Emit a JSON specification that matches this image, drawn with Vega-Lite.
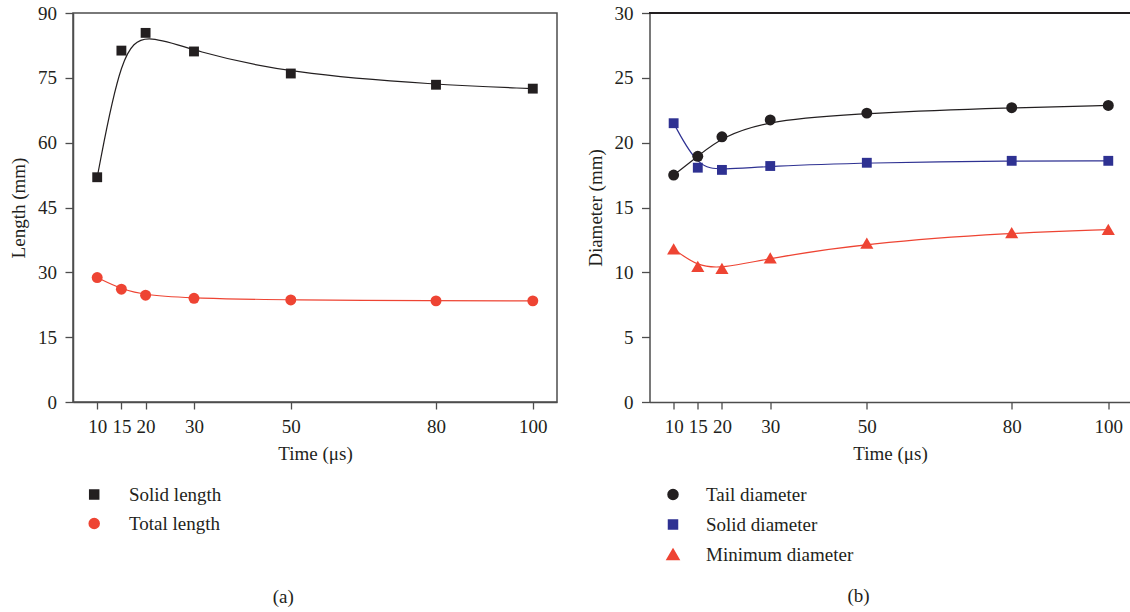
{
  "$schema": "https://vega.github.io/schema/vega-lite/v6.json",
  "background": "white",
  "padding": {"left": 8, "top": 3, "right": 0, "bottom": 0},
  "config": {
    "font": "Liberation Serif",
    "view": {"stroke": "#4d4d4d", "strokeWidth": 1.5},
    "axis": {
      "grid": false,
      "labelFont": "Liberation Serif",
      "titleFont": "Liberation Serif",
      "labelFontSize": 19,
      "titleFontSize": 19,
      "titleFontWeight": "normal",
      "labelColor": "#231f20",
      "titleColor": "#231f20",
      "domainColor": "#4d4d4d",
      "domainWidth": 1.5,
      "tickColor": "#4d4d4d",
      "tickWidth": 1.3
    },
    "legend": {
      "labelFont": "Liberation Serif",
      "labelFontSize": 19,
      "labelColor": "#231f20",
      "padding": 0,
      "symbolSize": 100,
      "symbolOpacity": 1,
      "rowPadding": 9
    }
  },
  "datasets": {
    "lengths": [
      {"time": 10, "value": 52.0, "series": "Solid length"},
      {"time": 15, "value": 81.3, "series": "Solid length"},
      {"time": 20, "value": 85.4, "series": "Solid length"},
      {"time": 30, "value": 81.1, "series": "Solid length"},
      {"time": 50, "value": 76.0, "series": "Solid length"},
      {"time": 80, "value": 73.4, "series": "Solid length"},
      {"time": 100, "value": 72.5, "series": "Solid length"},
      {"time": 10, "value": 28.8, "series": "Total length"},
      {"time": 15, "value": 26.1, "series": "Total length"},
      {"time": 20, "value": 24.7, "series": "Total length"},
      {"time": 30, "value": 24.0, "series": "Total length"},
      {"time": 50, "value": 23.6, "series": "Total length"},
      {"time": 80, "value": 23.4, "series": "Total length"},
      {"time": 100, "value": 23.4, "series": "Total length"}
    ],
    "diameters": [
      {"time": 10, "value": 17.5, "series": "Tail diameter"},
      {"time": 15, "value": 18.95, "series": "Tail diameter"},
      {"time": 20, "value": 20.45, "series": "Tail diameter"},
      {"time": 30, "value": 21.75, "series": "Tail diameter"},
      {"time": 50, "value": 22.28, "series": "Tail diameter"},
      {"time": 80, "value": 22.7, "series": "Tail diameter"},
      {"time": 100, "value": 22.87, "series": "Tail diameter"},
      {"time": 10, "value": 21.5, "series": "Solid diameter"},
      {"time": 15, "value": 18.07, "series": "Solid diameter"},
      {"time": 20, "value": 17.9, "series": "Solid diameter"},
      {"time": 30, "value": 18.2, "series": "Solid diameter"},
      {"time": 50, "value": 18.45, "series": "Solid diameter"},
      {"time": 80, "value": 18.6, "series": "Solid diameter"},
      {"time": 100, "value": 18.6, "series": "Solid diameter"},
      {"time": 10, "value": 11.8, "series": "Minimum diameter"},
      {"time": 15, "value": 10.45, "series": "Minimum diameter"},
      {"time": 20, "value": 10.3, "series": "Minimum diameter"},
      {"time": 30, "value": 11.1, "series": "Minimum diameter"},
      {"time": 50, "value": 12.25, "series": "Minimum diameter"},
      {"time": 80, "value": 13.05, "series": "Minimum diameter"},
      {"time": 100, "value": 13.3, "series": "Minimum diameter"}
    ]
  },
  "spacing": 27.5,
  "resolve": {
    "scale": {"color": "independent", "shape": "independent", "x": "independent", "y": "independent"},
    "legend": {"color": "independent", "shape": "independent"}
  },
  "hconcat": [
    {
      "width": 484,
      "height": 389,
      "data": {"name": "lengths"},
      "title": {"text": "(a)", "orient": "bottom", "anchor": "middle", "frame": "bounds", "offset": 54, "font": "Liberation Serif", "fontSize": 19, "fontWeight": "normal", "color": "#231f20"},
      "layer": [
        {
          "mark": {"type": "line", "interpolate": "basis", "strokeWidth": 1.2},
          "encoding": {
            "x": {"field": "time", "type": "quantitative", "scale": {"domain": [5, 105], "nice": false, "zero": false},
              "axis": {"title": "Time (μs)", "values": [10, 15, 20, 30, 50, 80, 100], "tickSize": 7, "labelPadding": 8, "titlePadding": 8}},
            "y": {"field": "value", "type": "quantitative", "scale": {"domain": [0, 90], "nice": false},
              "axis": {"title": "Length (mm)", "values": [0, 7.5, 15, 22.5, 30, 37.5, 45, 52.5, 60, 67.5, 75, 82.5, 90],
                "labelExpr": "datum.value % 15 === 0 ? datum.label : ''",
                "tickSize": {"condition": {"test": "datum.value % 15 !== 0", "value": 4}, "value": 8},
                "labelPadding": 8.5, "titlePadding": 9}},
            "color": {"field": "series", "type": "nominal", "scale": {"domain": ["Solid length", "Total length"], "range": ["#231f20", "#ee4433"]}}
          }
        },
        {
          "mark": {"type": "point", "filled": true, "opacity": 1, "size": 120},
          "encoding": {
            "x": {"field": "time", "type": "quantitative"},
            "y": {"field": "value", "type": "quantitative"},
            "color": {"field": "series", "type": "nominal",
              "legend": {"title": null, "orient": "none", "legendX": 11.7, "legendY": 472, "direction": "vertical", "labelOffset": 25.3}},
            "shape": {"field": "series", "type": "nominal", "scale": {"domain": ["Solid length", "Total length"], "range": ["M-0.9,-0.9H0.9V0.9H-0.9Z", "circle"]},
              "legend": {"title": null, "orient": "none", "legendX": 11.7, "legendY": 472, "direction": "vertical", "labelOffset": 25.3}}
          }
        }
      ]
    },
    {
      "width": 481,
      "height": 389,
      "view": {"stroke": null},
      "data": {"name": "diameters"},
      "title": {"text": "(b)", "orient": "bottom", "anchor": "middle", "frame": "bounds", "offset": 22, "font": "Liberation Serif", "fontSize": 19, "fontWeight": "normal", "color": "#231f20"},
      "layer": [
        {
          "mark": {"type": "rule", "color": "#231f20", "strokeWidth": 1.5},
          "encoding": {"y": {"datum": 30, "type": "quantitative"}}
        },
        {
          "mark": {"type": "line", "interpolate": "basis", "strokeWidth": 1.2},
          "encoding": {
            "x": {"field": "time", "type": "quantitative", "scale": {"domain": [5, 104.6], "nice": false, "zero": false},
              "axis": {"title": "Time (μs)", "values": [10, 15, 20, 30, 50, 80, 100], "tickSize": 7, "labelPadding": 8, "titlePadding": 8}},
            "y": {"field": "value", "type": "quantitative", "scale": {"domain": [0, 30], "nice": false},
              "axis": {"title": "Diameter (mm)", "values": [0, 2.5, 5, 7.5, 10, 12.5, 15, 17.5, 20, 22.5, 25, 27.5, 30],
                "labelExpr": "datum.value % 5 === 0 ? datum.label : ''",
                "tickSize": {"condition": {"test": "datum.value % 5 !== 0", "value": 4}, "value": 8},
                "labelPadding": 8.5, "titlePadding": 9}},
            "color": {"field": "series", "type": "nominal", "scale": {"domain": ["Tail diameter", "Solid diameter", "Minimum diameter"], "range": ["#231f20", "#2e3192", "#ee4433"]}}
          }
        },
        {
          "mark": {"type": "point", "filled": true, "opacity": 1, "size": 120},
          "encoding": {
            "x": {"field": "time", "type": "quantitative"},
            "y": {"field": "value", "type": "quantitative"},
            "color": {"field": "series", "type": "nominal",
              "legend": {"title": null, "orient": "none", "legendX": 14, "legendY": 472, "direction": "vertical", "rowPadding": 10, "labelOffset": 23.5}},
            "shape": {"field": "series", "type": "nominal", "scale": {"domain": ["Tail diameter", "Solid diameter", "Minimum diameter"], "range": ["circle", "M-0.9,-0.9H0.9V0.9H-0.9Z", "M0,-1.05L1.2,1H-1.2Z"]},
              "legend": {"title": null, "orient": "none", "legendX": 14, "legendY": 472, "direction": "vertical", "rowPadding": 10, "labelOffset": 23.5}}
          }
        }
      ]
    }
  ]
}
